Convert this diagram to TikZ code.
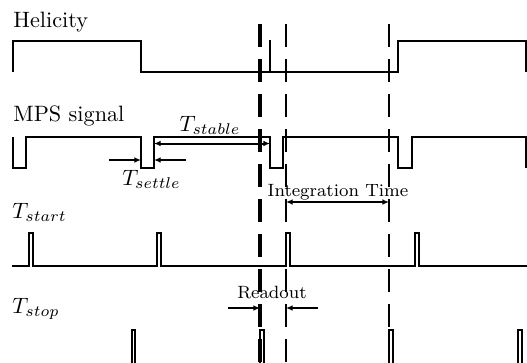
\documentclass[tikz,border=0pt]{standalone}
\usetikzlibrary{arrows.meta}
\tikzset{
	signal/.style={line width=0.9pt},
	marker/.style={line width=1.5pt, dash pattern=on 10.35pt off 5.4pt},
	thinmarker/.style={line width=0.9pt, dash pattern=on 10.35pt off 5.4pt},
	dimline/.style={line width=0.9pt},
	sigtitle/.style={inner sep=0pt, anchor=base west},
	dimtext/.style={inner sep=0pt, anchor=base}
}
\begin{document}
\begin{tikzpicture}[x=0.45pt, y=-0.45pt, >={Latex[length=3pt,width=2.6pt]}]
		\useasboundingbox (0,0) rectangle (527,362);
		% titles
		\node[sigtitle] (hel) at (13,27.5) {Helicity};
		\node[sigtitle] (mps) at (13,121) {MPS signal};
		\node[sigtitle] (tstart) at (12,218.5) {$T_{start}$};
		\node[sigtitle] (tstop) at (12,313) {$T_{stop}$};
		% helicity
		\draw[signal] (13,72) -- (13,41) -- (141,41) -- (141,72) -- (398,72) -- (398,41) -- (526,41) -- (526,72);
		\draw[signal] (270,72) -- (270,40);
		% MPS signal
		\draw[signal] (13,137) -- (13,168) -- (26,168) -- (26,137) -- (141,137) -- (141,168) -- (154,168) -- (154,137) -- (270,137) -- (270,168) -- (283,168) -- (283,137) -- (398,137) -- (398,168) -- (412,168) -- (412,137) -- (526,137) -- (526,168);
		% start pulses
		\draw[signal] (12,266) foreach \x in {29,157,286,415} { -- (\x,266) -- (\x,233) -- (\x+3.5,233) -- (\x+3.5,266) } -- (527,266);
		% stop pulses
		\foreach \x in {131.5,260,389,518}
			\draw[signal] (\x,368) -- (\x,330) -- (\x+3.5,330) -- (\x+3.5,368);
		% markers
		\draw[marker] (260,24) -- (260,362);
		\draw[thinmarker] (286,24) -- (286,362);
		\draw[thinmarker] (389,24) -- (389,362);
		% times
		\node[dimtext] (stable) at (210,131) {$T_{stable}$};
		\draw[dimline, <->] (154,143.5) -- (270,143.5);
		\node[dimtext] (settle) at (151.5,185) {$T_{settle}$};
		\draw[dimline, ->] (109,160) -- (141,160);
		\draw[dimline, ->] (186,160) -- (154,160);
		\node[dimtext, font=\footnotesize] (integ) at (338,196) {Integration Time};
		\draw[dimline, <->] (286,202) -- (389,202);
		\node[dimtext, font=\footnotesize] (readout) at (272,298.5) {Readout};
		\draw[dimline, ->] (228,308) -- (260,308);
		\draw[dimline, ->] (318,308) -- (286,308);
	\end{tikzpicture}
\end{document}
